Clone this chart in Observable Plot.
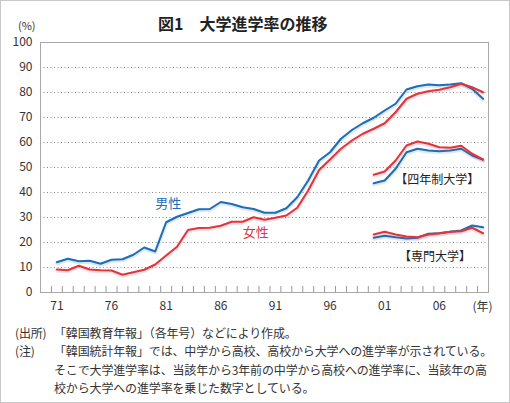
<!DOCTYPE html>
<html><head><meta charset="utf-8">
<script src="https://cdn.jsdelivr.net/npm/d3@7"></script>
<script src="https://cdn.jsdelivr.net/npm/@observablehq/plot@0.6"></script>
<style>
body{margin:0;background:#fff;font-family:"Noto Sans CJK JP","Noto Sans",sans-serif;color:#333;}
#wrap{position:relative;width:510px;height:403px;overflow:hidden;background:#fff;}
#border{position:absolute;left:0;top:0;width:510px;height:403px;box-sizing:border-box;border:1px solid #c8c8c8;pointer-events:none;}
#title{position:absolute;left:158px;top:12px;font-size:16px;line-height:22px;font-weight:bold;color:#222;white-space:nowrap;}
#chart{position:absolute;left:0;top:0;}
#caption{position:absolute;left:15px;top:324px;font-size:12px;line-height:18.3px;color:#333;white-space:nowrap;letter-spacing:-0.15px;}
#caption .row{display:flex;}
#caption .lab{width:39px;flex:none;}
</style></head>
<body>
<div id="wrap">
  <div id="chart"></div>
  <div id="title">図1　大学進学率の推移</div>
  <div id="caption">
    <div class="row"><span class="lab">(出所)</span><span>「韓国教育年報」（各年号）などにより作成。</span></div>
    <div class="row"><span class="lab">(注)</span><span>「韓国統計年報」では、中学から高校、高校から大学への進学率が示されている。</span></div>
    <div class="row"><span class="lab"></span><span>そこで大学進学率は、当該年から3年前の中学から高校への進学率に、当該年の高</span></div>
    <div class="row"><span class="lab"></span><span>校から大学への進学率を乗じた数字としている。</span></div>
  </div>
  <div id="border"></div>
</div>
<script>
// ---- data ----
const years = d3.range(1971, 2011);
const yearsLate = d3.range(2000, 2011);
const maleAll = [12.1,13.5,12.5,12.7,11.5,13.1,13.3,15.1,18.0,16.4,28.1,30.3,31.8,33.3,33.4,36.2,35.4,34.1,33.4,31.9,31.9,33.7,38.1,44.8,52.8,56.1,61.5,65.0,67.7,69.9,72.8,75.5,81.2,82.5,83.2,82.9,83.2,83.7,81.5,77.5];
const femaleAll = [9.2,8.9,10.7,9.2,8.9,8.8,7.1,8.1,9.1,11.2,14.8,18.3,25.0,25.8,25.9,26.7,28.3,28.3,30.1,29.1,29.9,30.8,33.9,40.8,49.0,53.2,57.5,60.8,63.5,65.5,67.7,72.1,77.5,79.5,80.5,81.1,82.1,83.5,82.1,80.1];
const male4yr = [43.7,44.8,49.5,56.1,57.5,56.8,56.5,56.8,57.5,54.8,53.1];
const female4yr = [47.1,48.4,52.8,58.8,60.4,59.5,58.1,57.9,58.7,55.5,53.2];
const maleJunior = [21.9,22.7,22.1,21.6,21.9,23.5,23.7,24.3,24.8,26.8,26.1];
const femaleJunior = [23.2,24.3,23.2,22.4,22.1,23.2,23.7,24.3,24.5,25.9,23.7];
const yTicks = d3.range(0, 101, 10);
const gridTicks = d3.range(10, 100, 10);
const xLabelYears = [1971,1976,1981,1986,1991,1996,2001,2006];
const labels = [
  {text:"男性", year:1981.2, value:35.6, color:"#1f6db5", size:13},
  {text:"女性", year:1989.2, value:24.0, color:"#e2343c", size:13},
  {text:"【四年制大学】", year:2005.8, value:44.8, color:"#222", size:12},
  {text:"【専門大学】", year:2005.6, value:14.0, color:"#222", size:12}
];
const BLUE = "#1f6db5", RED = "#e2343c";

const series = [
  {x: years, y: maleAll, color: BLUE},
  {x: years, y: femaleAll, color: RED},
  {x: yearsLate, y: male4yr, color: BLUE},
  {x: yearsLate, y: female4yr, color: RED},
  {x: yearsLate, y: maleJunior, color: BLUE},
  {x: yearsLate, y: femaleJunior, color: RED}
];
// minor ticks at boundaries between years (category-style axis)
const tickBounds = d3.range(years[0] - 0.5, years[years.length - 1], 1);

const lineMarks = [];
for (const s of series) {
  const rows = s.x.map((yr, i) => ({year: yr, value: s.y[i]}));
  lineMarks.push(Plot.line(rows, {x: "year", y: "value", stroke: s.color, strokeOpacity: 0.15, strokeWidth: 4, dy: 1}));
  lineMarks.push(Plot.line(rows, {x: "year", y: "value", stroke: s.color, strokeWidth: 2}));
}

const chart = Plot.plot({
  width: 510, height: 320,
  marginLeft: 40, marginRight: 22, marginTop: 42, marginBottom: 28,
  x: {domain: [1969.5, 2010.5]},
  y: {domain: [0, 100]},
  style: {fontFamily: '"Noto Sans CJK JP","Noto Sans",sans-serif', fontSize: "12px", color: "#333", background: "transparent", overflow: "visible"},
  marks: [
    Plot.ruleY(gridTicks, {y: d => d, stroke: "#8a8a8a", strokeDasharray: "1,2.5"}),
    Plot.axisY({ticks: yTicks, tickSize: 0, tickPadding: 8, label: null, fill: "#333"}),
    Plot.axisX({ticks: tickBounds, tickSize: -6, tickFormat: () => "", label: null, stroke: "#999"}),
    Plot.axisX({ticks: xLabelYears, tickSize: 0, tickPadding: 9, tickFormat: d => String(d).slice(2), label: null, fill: "#333"}),
    Plot.frame({stroke: "#a8a8a8"}),
    ...lineMarks,
    Plot.text(labels, {x: "year", y: "value", text: "text", fill: "color", fontSize: "size"}),
    Plot.text(["(%)"], {frameAnchor: "top-left", textAnchor: "end", lineAnchor: "middle", dx: -5, dy: -16, fontSize: 11, fill: "#333"}),
    Plot.text(["(年)"], {frameAnchor: "bottom-right", textAnchor: "end", lineAnchor: "middle", dx: 4, dy: 15, fill: "#333"})
  ]
});
document.getElementById("chart").appendChild(chart);
</script>
</body></html>
